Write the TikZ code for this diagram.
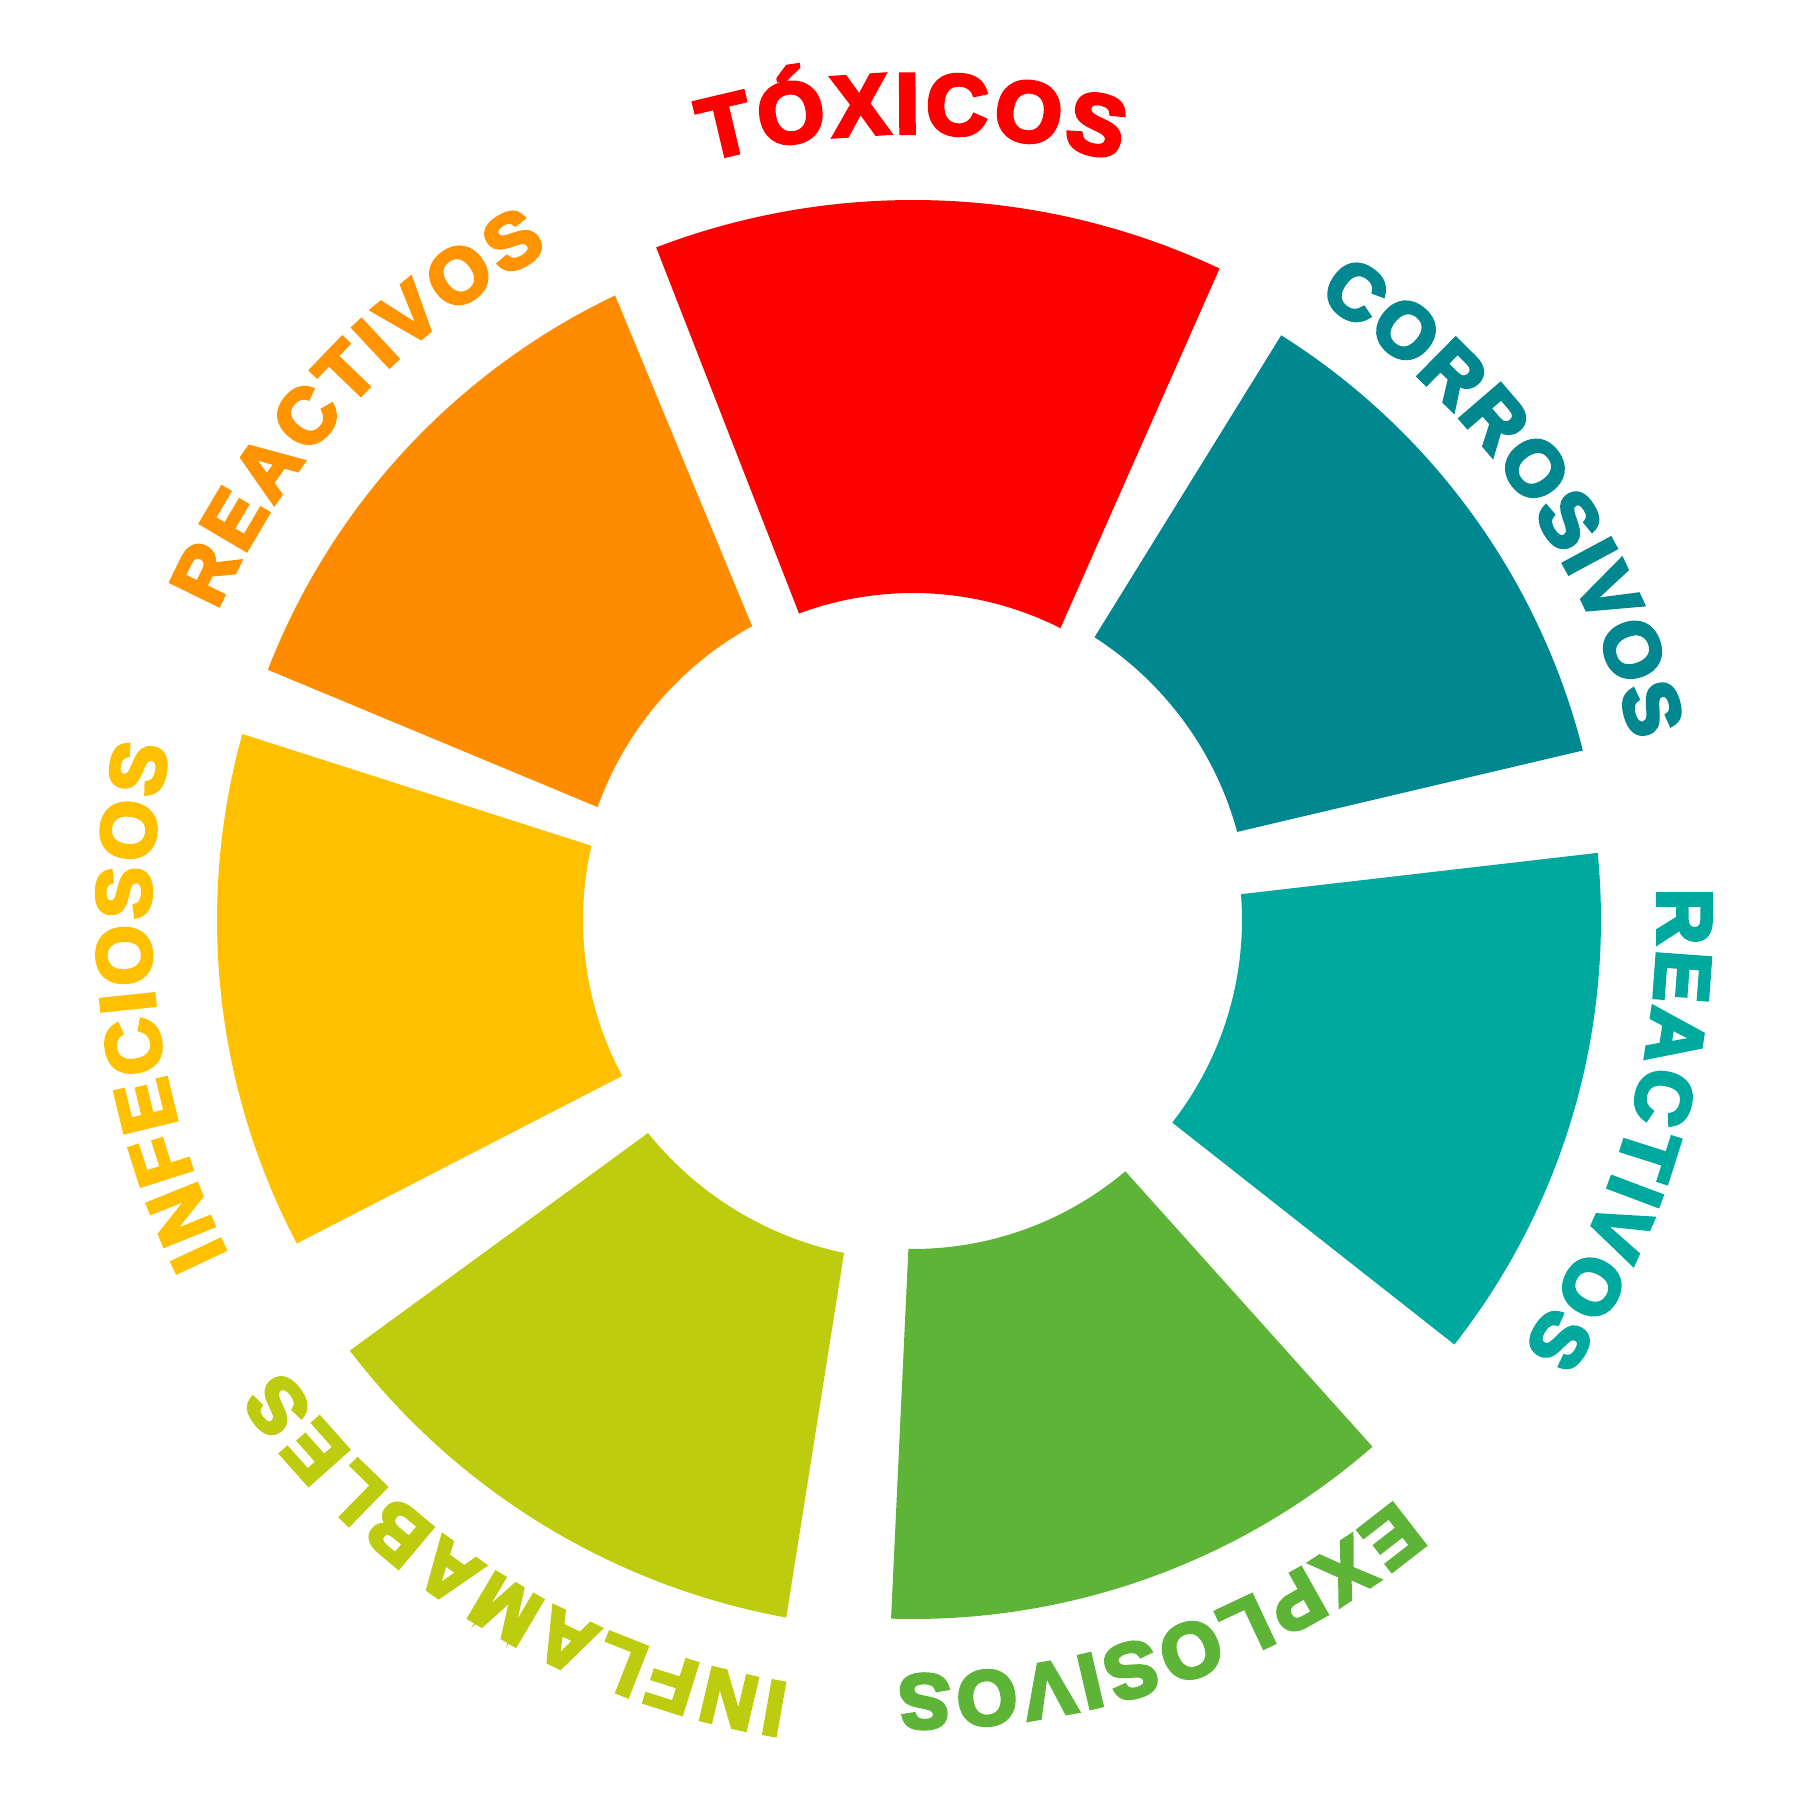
\documentclass[tikz,border=0pt]{standalone}
\usepackage{fontspec}
\setmainfont{Liberation Sans Bold}[FakeBold=5]
\usepackage{xcolor}
\usetikzlibrary{decorations.text}
\definecolor{hzred}{HTML}{FF0000}
\definecolor{hzorange}{HTML}{FF8C00}
\definecolor{hzorangetxt}{HTML}{FF9300}
\definecolor{hzamber}{HTML}{FFC000}
\definecolor{hzolive}{HTML}{BDCC0F}
\definecolor{hzgreen}{HTML}{5DB436}
\definecolor{hzcyan}{HTML}{00A99D}
\definecolor{hzteal}{HTML}{008790}
\newcommand{\hzBig}{\fontsize{24.2pt}{28pt}\selectfont}
\newcommand{\hzNormal}{\fontsize{21.9pt}{26pt}\selectfont}
\tikzset{
  ringLabel/.style={decorate, decoration={text along path, text align=fit to path, text color=#1}},
  ringText/.style={decoration={text={|\hzNormal|#1}}},
  ringBig/.style={decoration={text={|\hzBig|#1}}}
}

\begin{document}
\begin{tikzpicture}[x=0.01cm,y=0.01cm]
  \useasboundingbox (-913,-880) rectangle (887,920);
  % ring sectors: inner angles, outer angles, inner/outer radius, colour
  \foreach \ia/\ib/\oa/\ob/\ri/\ro/\c in {
      63.2/110.4/64.8/110.9/327/720/hzred,
      15.2/57.3/14.2/57.8/336/691/hzteal,
      -38/4.5/-38.1/5.6/329/688/hzcyan,
      -90.8/-49.8/-91.8/-48.9/329/699/hzgreen,
      -141.2/-101.7/-142.6/-100.3/340/709/hzolive,
      167/208.2/164.5/207.7/330/696/hzamber,
      118.7/160.3/115.5/158.8/335/692/hzorange}
    \fill[\c] (\ia:\ri) -- (\oa:\ro) arc[start angle=\oa, end angle=\ob, radius=\ro]
      -- (\ib:\ri) arc[start angle=\ib, end angle=\ia, radius=\ri] -- cycle;
  % labels round the ring
  \path[ringLabel=hzred, ringBig={TÓXICOS}] (105.2:787) arc[start angle=105.2, end angle=74.9, radius=787];
  \path[ringLabel=hzteal, ringText={CORROSIVOS}] (57:742) arc[start angle=57, end angle=14, radius=742];
  \path[ringLabel=hzcyan, ringText={REACTIVOS}] (2.4:745) arc[start angle=2.4, end angle=-35, radius=745];
  \path[ringLabel=hzgreen, ringText={EXPLOSIVOS}] (-50.2:755) arc[start angle=-50.2, end angle=-91.1, radius=755];
  \path[ringLabel=hzolive, ringText={INFLAMABLES}] (-99.2:774) arc[start angle=-99.2, end angle=-144.5, radius=774];
  \path[ringLabel=hzamber, ringText={INFECIOSOS}] (206:763) arc[start angle=206, end angle=167, radius=763];
  \path[ringLabel=hzorangetxt, ringText={REACTIVOS}] (156:762) arc[start angle=156, end angle=118.6, radius=762];
\end{tikzpicture}
\end{document}
